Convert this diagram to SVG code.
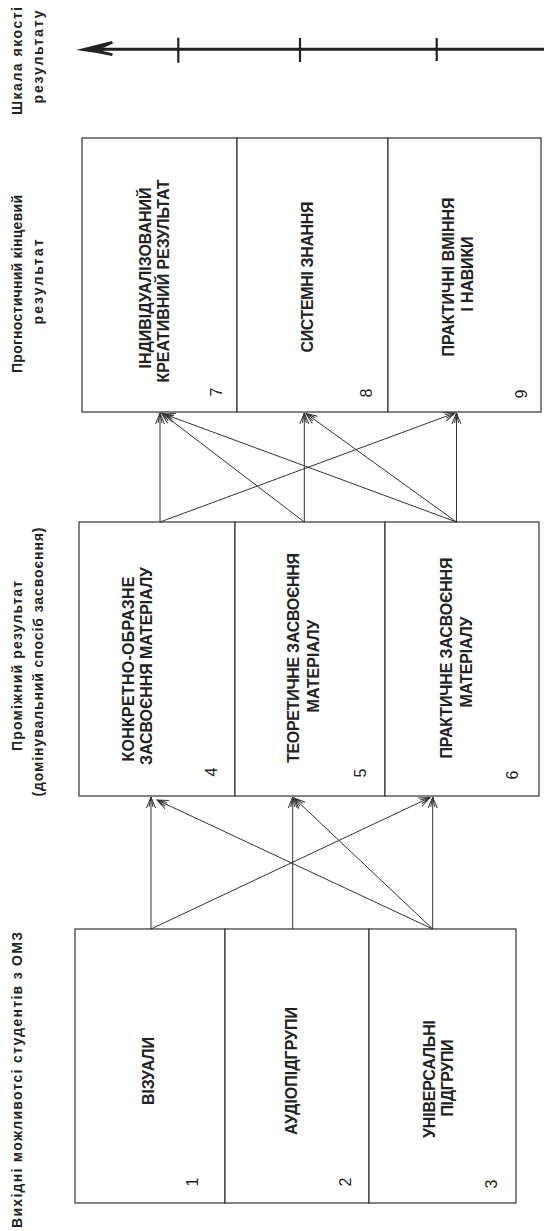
<svg xmlns="http://www.w3.org/2000/svg" width="544" height="1231" viewBox="0 0 544 1231">
<style>
.box{fill:#fff;stroke:#333;stroke-width:1.2}
.t{font-family:"Liberation Sans",Arial,sans-serif;font-weight:bold;font-size:16px;fill:#222;text-anchor:middle}
.n{font-family:"Liberation Sans",Arial,sans-serif;font-size:16px;fill:#222;text-anchor:middle}
.lbl{font-family:"Liberation Sans",Arial,sans-serif;font-weight:bold;font-size:14px;fill:#222;text-anchor:middle}
.c{stroke:#333;stroke-width:1;fill:none;marker-end:url(#ah)}
.ax{stroke:#222;stroke-width:3;fill:none}
.tk{stroke:#222;stroke-width:2.2;fill:none}
</style>
<defs>
<marker id="ah" viewBox="-12 -6 13 12" refX="0" refY="0" markerWidth="13" markerHeight="12" markerUnits="userSpaceOnUse" orient="auto">
<path d="M-11,-4.5 L0,0 L-11,4.5 M-10,-2 L0,0 L-10,2" fill="none" stroke="#333" stroke-width="1"/>
</marker>
</defs>

<g id="labels">
<text class="lbl" transform="translate(22,61) rotate(-90)" textLength="108">Шкала якості</text>
<text class="lbl" transform="translate(43,57) rotate(-90)" textLength="93">результату</text>
<text class="lbl" transform="translate(22,284) rotate(-90)" textLength="178">Прогностичний кінцевий</text>
<text class="lbl" transform="translate(43,282) rotate(-90)" textLength="85">результат</text>
<text class="lbl" transform="translate(22,666) rotate(-90)" textLength="170">Проміжний результат</text>
<text class="lbl" transform="translate(43,662) rotate(-90)" textLength="269">(домінувальний спосіб засвоєння)</text>
<text class="lbl" transform="translate(22,1080) rotate(-90)" textLength="296">Вихідні можливотсі студентів з ОМЗ</text>
</g>

<g id="scale">
<line class="ax" x1="100" y1="49.3" x2="544" y2="49.3"/>
<polygon points="76,50 96,45 112,41 113,43.5 103,48 103,51 113,53.5 112,56 97,53" fill="#222"/>
<line class="tk" x1="178.3" y1="37.7" x2="178.3" y2="62.7"/>
<line class="tk" x1="300" y1="38" x2="300" y2="62"/>
<line class="tk" x1="436.7" y1="38" x2="436.7" y2="61"/>
</g>

<g id="n7">
<rect class="box" x="82" y="138" width="155" height="274"/>
<text class="t" transform="translate(150.7,278) rotate(-90)" textLength="181">ІНДИВІДУАЛІЗОВАНИЙ</text>
<text class="t" transform="translate(168.7,281) rotate(-90)" textLength="203">КРЕАТИВНИЙ РЕЗУЛЬТАТ</text>
<text class="n" transform="translate(222.2,392) rotate(-90)">7</text>
</g>
<g id="n8">
<rect class="box" x="237" y="138" width="151" height="274"/>
<text class="t" transform="translate(312.7,277) rotate(-90)" textLength="151">СИСТЕМНІ ЗНАННЯ</text>
<text class="n" transform="translate(371.7,393) rotate(-90)">8</text>
</g>
<g id="n9">
<rect class="box" x="388" y="138" width="153" height="274"/>
<text class="t" transform="translate(453.7,277) rotate(-90)" textLength="159">ПРАКТИЧНІ ВМІННЯ</text>
<text class="t" transform="translate(472.7,274) rotate(-90)" textLength="75">І НАВИКИ</text>
<text class="n" transform="translate(526.7,394) rotate(-90)">9</text>
</g>

<g id="n4">
<rect class="box" x="79" y="522" width="156" height="274"/>
<text class="t" transform="translate(133.7,669) rotate(-90)" textLength="185">КОНКРЕТНО-ОБРАЗНЕ</text>
<text class="t" transform="translate(152.2,666) rotate(-90)" textLength="198">ЗАСВОЄННЯ МАТЕРІАЛУ</text>
<text class="n" transform="translate(216.7,772) rotate(-90)">4</text>
</g>
<g id="n5">
<rect class="box" x="235" y="522" width="150" height="274"/>
<text class="t" transform="translate(298.7,658) rotate(-90)" textLength="210">ТЕОРЕТИЧНЕ ЗАСВОЄННЯ</text>
<text class="t" transform="translate(318.7,666) rotate(-90)" textLength="93">МАТЕРІАЛУ</text>
<text class="n" transform="translate(365.7,773) rotate(-90)">5</text>
</g>
<g id="n6">
<rect class="box" x="385" y="522" width="154" height="274"/>
<text class="t" transform="translate(452.2,658) rotate(-90)" textLength="201">ПРАКТИЧНЕ ЗАСВОЄННЯ</text>
<text class="t" transform="translate(472.2,662) rotate(-90)" textLength="91">МАТЕРІАЛУ</text>
<text class="n" transform="translate(518.2,775) rotate(-90)">6</text>
</g>

<g id="n1">
<rect class="box" x="75" y="929" width="150" height="274"/>
<text class="t" transform="translate(153.7,1071) rotate(-90)" textLength="68">ВІЗУАЛИ</text>
<text class="n" transform="translate(198.2,1182) rotate(-90)">1</text>
</g>
<g id="n2">
<rect class="box" x="225" y="929" width="144" height="274"/>
<text class="t" transform="translate(297.2,1071) rotate(-90)" textLength="128">АУДІОПІДГРУПИ</text>
<text class="n" transform="translate(350.7,1182) rotate(-90)">2</text>
</g>
<g id="n3">
<rect class="box" x="369" y="929" width="147" height="274"/>
<text class="t" transform="translate(434.7,1079) rotate(-90)" textLength="118">УНІВЕРСАЛЬНІ</text>
<text class="t" transform="translate(452.7,1078) rotate(-90)" textLength="77">ПІДГРУПИ</text>
<text class="n" transform="translate(496.7,1184) rotate(-90)">3</text>
</g>

<g id="connectors">
<line class="c" x1="151" y1="929" x2="151" y2="797"/>
<line class="c" x1="151" y1="929" x2="430" y2="797.5"/>
<line class="c" x1="292.7" y1="929" x2="292.7" y2="797"/>
<line class="c" x1="432.7" y1="929" x2="157" y2="800"/>
<line class="c" x1="432.7" y1="929" x2="294" y2="798"/>
<line class="c" x1="432.7" y1="929" x2="432.7" y2="797"/>
<line class="c" x1="160" y1="522" x2="160" y2="413"/>
<line class="c" x1="160" y1="522" x2="455" y2="413"/>
<line class="c" x1="304.3" y1="522" x2="161.5" y2="413"/>
<line class="c" x1="304.3" y1="522" x2="304.3" y2="413"/>
<line class="c" x1="456.5" y1="522" x2="164" y2="414"/>
<line class="c" x1="456.5" y1="522" x2="306" y2="413.5"/>
<line class="c" x1="456.5" y1="522" x2="456.5" y2="413"/>
</g>
</svg>
